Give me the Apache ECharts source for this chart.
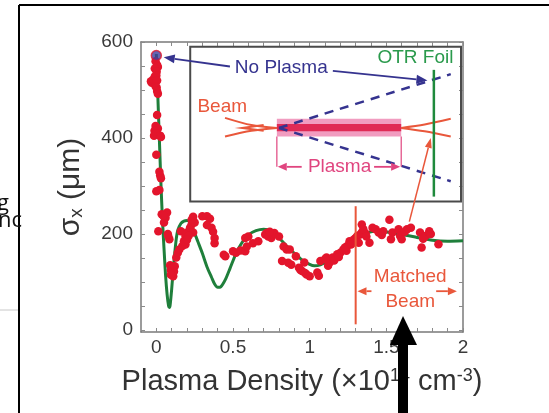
<!DOCTYPE html>
<html>
<head>
<meta charset="utf-8">
<script src="https://cdn.jsdelivr.net/npm/echarts@6/dist/echarts.min.js"></script>
<style>
  html, body { margin: 0; padding: 0; background: #fff; }
  #chart { width: 549px; height: 413px; }
</style>
</head>
<body>
<div id="chart"></div>
<script>
// Beam spot size sigma_x versus plasma density: measurements and envelope model
const xTickLabels = [0, 0.5, 1, 1.5, 2];
const yTickLabels = [0, 200, 400, 600];
const xTickMarks = [0, 0.1, 0.2, 0.3, 0.4, 0.5, 0.6, 0.7, 0.8, 0.9, 1, 1.1, 1.2, 1.3, 1.4, 1.5, 1.6, 1.7, 1.8, 1.9, 2];
const yTickMarks = [0, 50, 100, 150, 200, 250, 300, 350, 400, 450, 500, 550, 600];

// No-plasma reference point
const noPlasmaDensity = [0];
const noPlasmaSigma = [572];

// Measured spot sizes (density in 1e14 cm^-3, sigma in um)
const measuredDensity = [
  -0.005, 0.005, 0.01, -0.01, 0.002, -0.035, -0.03, -0.02, -0.01, 0.0, 0.005, -0.005, 0.002, 0.005, 0.01,
  0.005, -0.005, 0.01, -0.012, -0.015, 0.0, 0.025, 0.03, 0.0, 0.02, 0.025, 0.03, 0.02, 0.0,
  0.035, 0.06, 0.05, 0.013, 0.078, 0.085, 0.07, 0.045, 0.075,
  0.09, 0.095, 0.1, 0.105, 0.11, 0.115, 0.1, 0.12, 0.095,
  0.13, 0.14, 0.15, 0.17, 0.19, 0.16, 0.19, 0.2, 0.22, 0.23, 0.25, 0.24, 0.21, 0.18, 0.2, 0.23, 0.24,
  0.3, 0.33, 0.35, 0.33, 0.36, 0.37, 0.38, 0.38, 0.44, 0.45, 0.5, 0.52, 0.55, 0.58, 0.59, 0.58, 0.6,
  0.63, 0.665, 0.71, 0.73, 0.75, 0.76, 0.77, 0.8, 0.72, 0.74, 0.83, 0.85, 0.87, 0.88, 0.86,
  0.82, 0.91, 0.93, 0.95, 0.98, 0.965, 0.94, 0.97, 1.0, 1.05, 1.06, 1.07, 1.11, 1.12, 1.13, 1.15,
  1.18, 1.2, 1.22, 1.245, 1.26, 1.28, 1.3, 1.29, 1.24, 1.16, 1.1, 1.19, 1.23, 1.27,
  1.31, 1.32, 1.34, 1.34, 1.365, 1.39, 1.41, 1.43, 1.45, 1.48, 1.52, 1.53, 1.54, 1.58, 1.59, 1.6,
  1.635, 1.66, 1.72, 1.73, 1.755, 1.78, 1.79, 1.84, 1.33, 1.35, 1.37, 1.47, 1.62, 1.74
];
const measuredSigma = [
  560, 552, 548, 545, 538, 518, 515, 522, 528, 530, 520, 508, 505, 498, 492,
  448, 425, 420, 415, 405, 410, 405, 402, 365, 330, 322, 316, 292, 289,
  241, 234, 224, 206, 196, 189, 245, 238, 200,
  135, 125, 118, 130, 112, 122, 128, 133, 115,
  151, 161, 168, 175, 178, 206, 196, 203, 213, 220, 224, 203, 196, 185, 188, 230, 236,
  237, 237, 232, 219, 213, 205, 192, 181, 157, 154, 164, 161, 166, 164, 174, 192, 195,
  181, 185, 199, 195, 192, 199, 202, 195, 202, 205, 174, 168, 168, 136, 140,
  144, 154, 130, 123, 116, 141, 125, 119, 112, 120, 113, 144, 151, 134, 141, 151,
  158, 161, 168, 175, 185, 182, 192, 189, 165, 145, 148, 152, 172, 178,
  196, 182, 220, 203, 201, 182, 213, 210, 203, 206, 230, 189, 203, 210, 196, 189,
  210, 213, 203, 172, 196, 206, 200, 179, 199, 210, 195, 198, 205, 190
];

// Envelope model curve
const theoryDensity = [
  0, 0.01, 0.02, 0.03, 0.04, 0.05, 0.06, 0.07, 0.08, 0.085, 0.09, 0.1, 0.11, 0.12, 0.13, 0.14,
  0.16, 0.18, 0.2, 0.22, 0.24, 0.27, 0.3, 0.33, 0.36, 0.38, 0.4, 0.42, 0.45, 0.48, 0.52, 0.56,
  0.6, 0.65, 0.7, 0.75, 0.8, 0.85, 0.9, 0.95, 1.0, 1.03, 1.07, 1.12, 1.17, 1.22, 1.27, 1.32,
  1.37, 1.42, 1.47, 1.52, 1.6, 1.7, 1.8, 1.9, 2.0
];
const theorySigma = [
  575, 485, 395, 305, 230, 170, 115, 75, 50, 47, 52, 85, 125, 160, 190, 208,
  222, 227, 228, 224, 210, 185, 160, 132, 110, 96, 89, 90, 105, 128, 160, 183,
  198, 207, 210, 206, 192, 175, 160, 146, 137, 134, 136, 145, 158, 172, 184, 195,
  202, 206, 206, 203, 199, 193, 187, 185, 186
];

const FONT = '"Liberation Sans", Arial, Helvetica, sans-serif';
const pair = (xs, ys) => xs.map((x, i) => [x, ys[i]]);

const chart = echarts.init(document.getElementById('chart'), null, { renderer: 'canvas' });

const frameLine = { show: true, onZero: false, lineStyle: { color: '#7a7a7a', width: 1.5 } };
const xTick = { show: true, inside: true, length: 4, customValues: xTickMarks, lineStyle: { color: '#8a8a8a', width: 1 } };
const yTick = { show: true, inside: true, length: 4, customValues: yTickMarks, lineStyle: { color: '#8a8a8a', width: 1 } };

chart.setOption({
  backgroundColor: '#ffffff',
  animation: false,
  grid: { left: 141, right: 86, top: 42, bottom: 81 },
  xAxis: [
    {
      type: 'value', min: -0.1, max: 2, position: 'bottom',
      axisLine: frameLine, axisTick: xTick, splitLine: { show: false },
      axisLabel: { customValues: xTickLabels, color: '#3a3a3a', fontSize: 19, fontFamily: FONT, margin: 6 },
      name: '{a|Plasma Density (×10}{b|14}{a| cm}{b|-3}{a|)}',
      nameLocation: 'middle', nameGap: 35,
      nameTextStyle: {
        rich: {
          a: { fontSize: 29, color: '#333', fontFamily: FONT },
          b: { fontSize: 18, color: '#333', fontFamily: FONT, verticalAlign: 'top' }
        }
      }
    },
    {
      type: 'value', min: -0.1, max: 2, position: 'top',
      axisLine: frameLine, axisTick: xTick, axisLabel: { show: false }, splitLine: { show: false }
    }
  ],
  yAxis: [
    {
      type: 'value', min: -4, max: 600, position: 'left',
      axisLine: frameLine, axisTick: yTick, splitLine: { show: false },
      axisLabel: { customValues: yTickLabels, color: '#3a3a3a', fontSize: 19, fontFamily: FONT, margin: 8 },
      name: '{a|σ}{b|x}{a| (μm)}',
      nameLocation: 'middle', nameGap: 55,
      nameTextStyle: {
        rich: {
          a: { fontSize: 30, color: '#333', fontFamily: FONT },
          b: { fontSize: 19, color: '#333', fontFamily: FONT, verticalAlign: 'bottom' }
        }
      }
    },
    {
      type: 'value', min: -4, max: 600, position: 'right',
      axisLine: frameLine, axisTick: yTick, axisLabel: { show: false }, splitLine: { show: false }
    }
  ],
  series: [
    {
      name: 'model', type: 'line', data: pair(theoryDensity, theorySigma),
      smooth: 0.25, showSymbol: false, symbol: 'none',
      lineStyle: { color: '#1f7f3b', width: 3 }, z: 2
    },
    {
      name: 'measured', type: 'scatter', data: pair(measuredDensity, measuredSigma),
      symbolSize: 8.5, itemStyle: { color: '#e3152c', opacity: 1 }, z: 3
    },
    {
      name: 'no plasma', type: 'scatter', data: pair(noPlasmaDensity, noPlasmaSigma),
      symbolSize: 10, itemStyle: { color: '#3e3f9c', borderColor: '#e3152c', borderWidth: 1.5 }, z: 4
    }
  ]
});

// Inset schematic and annotations, positioned in data coordinates
const P = (x, y) => chart.convertToPixel({ xAxisIndex: 0, yAxisIndex: 0 }, [x, y]);

function arrow(from, to, color, width, head, headW) {
  const a = P(from[0], from[1]);
  const b = P(to[0], to[1]);
  const dx = b[0] - a[0], dy = b[1] - a[1];
  const len = Math.sqrt(dx * dx + dy * dy);
  const ux = dx / len, uy = dy / len;
  const bx = b[0] - ux * head, by = b[1] - uy * head;
  return [
    { type: 'line', z: 50, shape: { x1: a[0], y1: a[1], x2: bx, y2: by }, style: { stroke: color, lineWidth: width } },
    { type: 'polygon', z: 50, shape: { points: [[b[0], b[1]], [bx - uy * headW, by + ux * headW], [bx + uy * headW, by - ux * headW]] }, style: { fill: color } }
  ];
}
function seg(pts, color, width, dash) {
  return { type: 'polyline', z: 45, shape: { points: pts.map(p => P(p[0], p[1])), smooth: 0.3 },
           style: { stroke: color, lineWidth: width, fill: null, lineDash: dash || null } };
}
function label(text, x, y, color, align) {
  const p = P(x, y);
  return { type: 'text', z: 55, x: p[0], y: p[1],
           style: { text: text, fill: color, font: '19px ' + FONT, align: align || 'center', verticalAlign: 'middle' } };
}

const NAVY = '#35338f', GREEN = '#2a9a4c', ORANGE = '#e9573b', PINK = '#e0457f';
const g = [];

// inset frame
const r0 = P(0.221, 590), r1 = P(1.987, 268);
g.push({ type: 'rect', z: 40, shape: { x: r0[0], y: r0[1], width: r1[0] - r0[0], height: r1[1] - r0[1] },
         style: { fill: 'rgba(255,255,255,0)', stroke: '#4a4a4a', lineWidth: 2 } });

// plasma column
const c0 = P(0.786, 440), c1 = P(1.597, 403);
g.push({ type: 'rect', z: 42, shape: { x: c0[0], y: c0[1], width: c1[0] - c0[0], height: c1[1] - c0[1] },
         style: { fill: 'rgba(232,90,150,0.6)' } });
const d0 = P(0.786, 429), d1 = P(1.597, 414);
g.push({ type: 'rect', z: 43, shape: { x: d0[0], y: d0[1], width: d1[0] - d0[0], height: d1[1] - d0[1] },
         style: { fill: '#e02a55' } });

// incoming beam envelope
g.push(seg([[0.448, 442], [0.62, 427], [0.786, 421]], ORANGE, 2));
g.push(seg([[0.448, 403], [0.62, 415], [0.786, 421]], ORANGE, 2));
g.push({ type: 'polyline', z: 45, shape: { points: [P(0.70, 427), P(0.56, 421), P(0.70, 415)] },
         style: { stroke: ORANGE, lineWidth: 2, fill: null } });
// beam leaving the plasma
g.push(seg([[1.597, 421], [1.75, 428], [1.92, 440]], ORANGE, 2));
g.push(seg([[1.597, 421], [1.75, 414], [1.92, 403]], ORANGE, 2));

// free-space divergence without plasma
g.push(seg([[0.80, 421], [1.92, 533]], NAVY, 2.5, [9, 7]));
g.push(seg([[0.80, 421], [1.92, 310]], NAVY, 2.5, [9, 7]));

// OTR foil
g.push(seg([[1.81, 542], [1.81, 278]], '#1f8a3c', 2.5));

// plasma length bracket
g.push(seg([[0.786, 403], [0.786, 340]], PINK, 1.2));
g.push(seg([[1.597, 403], [1.597, 340]], PINK, 1.2));
g.push(...arrow([0.948, 340], [0.792, 340], PINK, 1.8, 9, 4));
g.push(...arrow([1.42, 340], [1.59, 340], PINK, 1.8, 9, 4));
g.push(label('Plasma', 1.195, 340, PINK));

// labels inside the inset
g.push(label('No Plasma', 0.815, 546, NAVY));
g.push(label('OTR Foil', 1.69, 567, GREEN));
g.push(label('Beam', 0.43, 465, ORANGE));
g.push(...arrow([0.48, 549], [0.048, 568], NAVY, 1.8, 11, 4.5));
g.push(...arrow([1.151, 540], [1.768, 520], NAVY, 1.8, 11, 4.5));

// matched-beam region
g.push(seg([[1.30, 258], [1.30, 12]], ORANGE, 2));
g.push(label('Matched', 1.656, 112, ORANGE));
g.push(label('Beam', 1.656, 60, ORANGE));
g.push(...arrow([1.403, 81], [1.312, 81], ORANGE, 1.8, 9, 4));
g.push(...arrow([1.825, 81], [1.96, 81], ORANGE, 1.8, 9, 4));
g.push(...arrow([1.65, 226], [1.79, 400], ORANGE, 1.5, 10, 3.5));

// surrounding slide: frame, cropped text and pointer arrow
g.push({ type: 'line', z: 60, shape: { x1: 19, y1: 5, x2: 549, y2: 5 }, style: { stroke: '#000', lineWidth: 2 } });
g.push({ type: 'line', z: 60, shape: { x1: 19, y1: 5, x2: 19, y2: 413 }, style: { stroke: '#000', lineWidth: 2 } });
g.push({ type: 'line', z: 60, shape: { x1: 0, y1: 310, x2: 18, y2: 310 }, style: { stroke: '#c8c8c8', lineWidth: 1 } });
g.push({ type: 'text', z: 60, x: 9, y: 204, style: { text: 'ing', fill: '#111', font: '22px "Open Sans", sans-serif', align: 'right', verticalAlign: 'middle' } });
g.push({ type: 'text', z: 60, x: -2, y: 221, style: { text: 'nc', fill: '#111', font: '22px "Open Sans", sans-serif', align: 'left', verticalAlign: 'middle' } });
g.push({ type: 'rect', z: 70, shape: { x: 398, y: 342, width: 10, height: 72 }, style: { fill: '#000' } });
g.push({ type: 'polygon', z: 70, shape: { points: [[390, 345], [403, 316], [417, 345]] }, style: { fill: '#000' } });

chart.setOption({ graphic: g });
</script>
</body>
</html>
